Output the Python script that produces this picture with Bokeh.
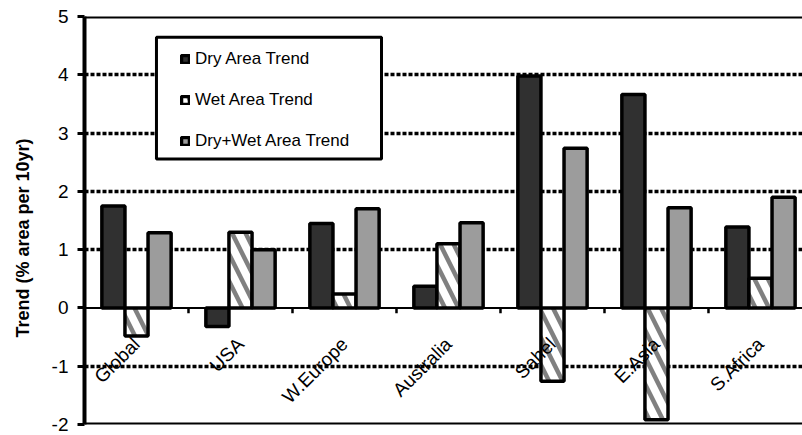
import math

from bokeh.core.properties import value
from bokeh.embed import file_html
from bokeh.models import (BoxAnnotation, ColumnDataSource, FixedTicker, Legend,
                          LegendItem, Range1d, Span)
from bokeh.plotting import figure
from bokeh.resources import INLINE
from bokeh.transform import dodge

# ---- data: trend of dry / wet area, % area per 10 years ----
regions = ["Global", "USA", "W.Europe", "Australia", "Sahel", "E.Asia", "S.Africa"]
dry_trend = [1.75, -0.32, 1.45, 0.37, 3.98, 3.66, 1.39]
wet_trend = [-0.48, 1.30, 0.24, 1.10, -1.26, -1.92, 0.51]
drywet_trend = [1.29, 1.00, 1.70, 1.46, 2.74, 1.72, 1.90]

y_ticks = [-2, -1, 0, 1, 2, 3, 4, 5]
y_tick_text = {t: str(t) for t in y_ticks}   # plain hyphen for negatives
grid_levels = [-1, 1, 2, 3, 4]

FONT = "Liberation Sans"
DRY_FILL = "#303030"
DRYWET_FILL = "#9c9c9c"
HATCH = "#808080"

n = len(regions)
centers = [i + 0.5 for i in range(n)]
source = ColumnDataSource(dict(cx=centers, region=regions, base=[0.0] * n,
                               dry=dry_trend, wet=wet_trend, drywet=drywet_trend))

p = figure(width=802, height=435, output_backend="svg", toolbar_location=None,
           x_range=Range1d(0, 6.904), y_range=Range1d(-2, 5),
           x_axis_location=None, min_border_left=84, min_border_right=0,
           min_border_top=16, min_border_bottom=11)
p.outline_line_color = None
p.background_fill_color = "white"
p.border_fill_color = "white"

# ---- y axis ----
ax = p.yaxis[0]
ax.ticker = FixedTicker(ticks=y_ticks)
ax.major_label_overrides = y_tick_text
ax.axis_line_width = 4
ax.axis_line_color = "black"
ax.major_tick_out = 7
ax.major_tick_in = 0
ax.major_tick_line_width = 3
ax.major_tick_line_color = "black"
ax.minor_tick_line_color = None
ax.major_label_standoff = 9
ax.major_label_text_font = FONT
ax.major_label_text_font_size = "19px"
ax.major_label_text_color = "black"
# trailing no-break spaces push the centred title slightly downwards
ax.axis_label = "Trend (% area per 10yr)" + "\u00a0" * 7
ax.axis_label_text_font = FONT
ax.axis_label_text_font_size = "18px"
ax.axis_label_text_font_style = "bold"
ax.axis_label_text_color = "black"
ax.axis_label_standoff = 16

# ---- grid ----
p.xgrid.visible = False
p.ygrid.ticker = FixedTicker(ticks=grid_levels)
p.ygrid.grid_line_color = "black"
p.ygrid.grid_line_width = 3.5
p.ygrid.grid_line_dash = "4 2"

# ---- bars ----
bw = 0.222
r_dry = p.vbar(x=dodge("cx", -bw, range=p.x_range), top="dry", bottom="base",
               width=bw, source=source, fill_color=DRY_FILL,
               line_color="black", line_width=3.5)
r_wet = p.vbar(x=dodge("cx", 0.0, range=p.x_range), top="wet", bottom="base",
               width=bw, source=source, fill_color="white",
               hatch_pattern="left_diagonal_line", hatch_color=HATCH,
               hatch_weight=4.5, hatch_scale=27,
               line_color="black", line_width=3.5)
r_dw = p.vbar(x=dodge("cx", bw, range=p.x_range), top="drywet", bottom="base",
              width=bw, source=source, fill_color=DRYWET_FILL,
              line_color="black", line_width=3.5)

# ---- zero line, frame edges, category separators ----
p.add_layout(Span(location=0, dimension="width", line_color="black", line_width=2))
p.add_layout(Span(location=5, dimension="width", line_color="black", line_width=4))
p.add_layout(Span(location=-2, dimension="width", line_color="black", line_width=4))

sep_x = list(range(1, n))
p.segment(x0=sep_x, y0=[0] * len(sep_x), x1=sep_x, y1=[-0.09] * len(sep_x),
          line_color="black", line_width=2.5)

# ---- rotated category labels ----
p.text(x="cx", y="base", text="region", source=source, angle=math.pi / 4,
       text_align="right", text_baseline="middle", x_offset=0, y_offset=33,
       text_font=value(FONT), text_font_size="19px", text_color="black")

# ---- legend ----
legend_frame = BoxAnnotation(left=0.692, right=2.856, top=4.643, bottom=2.554,
                             fill_color="white", fill_alpha=1.0,
                             line_color="black", line_alpha=1.0, line_width=3)
p.add_layout(legend_frame)

legend = Legend(items=[LegendItem(label="Dry Area Trend", renderers=[r_dry]),
                       LegendItem(label="Wet Area Trend", renderers=[r_wet]),
                       LegendItem(label="Dry+Wet Area Trend", renderers=[r_dw])],
                location=(96, 273), padding=0, spacing=21, margin=0,
                glyph_width=10, glyph_height=10, label_height=20,
                label_standoff=5, label_text_font=FONT,
                label_text_font_size="17px", label_text_color="black",
                border_line_alpha=0, background_fill_alpha=0)
p.add_layout(legend)

open("out.html", "w").write(file_html(p, INLINE))
